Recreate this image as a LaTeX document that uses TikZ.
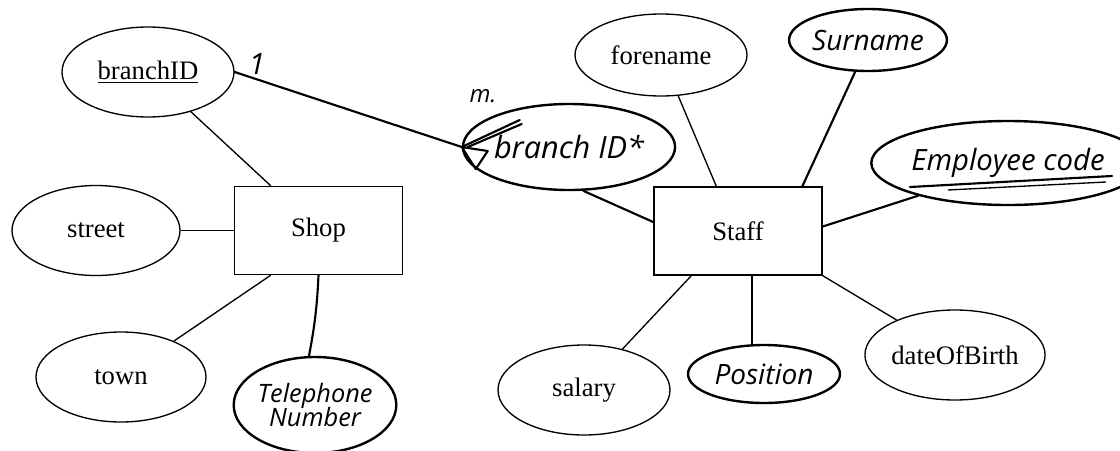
\documentclass[tikz,border=0pt]{standalone}
\usepackage{fontspec}
\setmainfont{Liberation Serif}
\newfontfamily\handfont{Open Sans}
\usetikzlibrary{shapes.geometric,calc}

\begin{document}
\begin{tikzpicture}[x=0.75pt,y=-0.75pt,
  attr/.style 2 args={ellipse, draw, line width=1pt, inner sep=0pt,
    minimum width=#1*0.75pt, minimum height=#2*0.75pt,
    font=\fontsize{20}{22}\selectfont},
  hattr/.style 2 args={ellipse, draw, line width=1.8pt, inner sep=0pt,
    minimum width=#1*0.75pt, minimum height=#2*0.75pt, align=center},
  hand/.style={font=\handfont\itshape\fontsize{#1}{#1}\selectfont},
  entity/.style={draw, line width=1pt, inner sep=0pt,
    minimum width=168*0.75pt, minimum height=88*0.75pt,
    font=\fontsize{20}{22}\selectfont},
  link/.style={line width=1pt},
  hlink/.style={line width=1.6pt, line cap=round, line join=round},
  cardtext/.style={hand=#1, inner sep=0pt},
]
\useasboundingbox (0,0) rectangle (1120,450);

% entities
\node[entity] (shop)  at (318.5,230.5) {Shop};
\node[entity] (staff) at (738,231) {Staff};

% Shop attributes
\node[attr={172}{90}] (branchid) at (148,72)  {\underline{branchID}};
\node[attr={168}{90}] (street)   at (96,230.5) {street};
\node[attr={170}{90}] (town)     at (121,377) {town};
\node[hattr={156}{96}, hand=19] (phone) at (315,405) {Telephone\\[-1pt]Number};

% Staff attributes
\node[attr={172}{82}]  (forename) at (661,55)  {forename};
\node[hattr={142}{62}, hand=21] (surname)  at (868,40)  {Surname};
\node[hattr={218}{84}, hand=22] (empcode)  at (1008,163) {Employee code};
\node[attr={172}{90}]  (salary)   at (584,390) {salary};
\node[hattr={152}{58}, hand=21] (position) at (764,374) {Position};
\node[attr={170}{90}]  (dob)      at (955,355) {dateOfBirth};

% foreign key attribute
\node[hattr={208}{86}, hand=23] (branchfk) at (569,147) {branch ID*};

% connectors of Shop
\draw[link] (branchid) -- ($(shop.north west)+(37,0)$);
\draw[link] (street) -- (shop.west);
\draw[link] (town) -- ($(shop.south west)+(37,0)$);
\draw[hlink] (shop.south) to[bend left=4] (phone.97);

% relationship between the two keys, with its cardinalities
\draw[hlink] (branchid.east) -- (branchfk.west);
\node[cardtext=22] (one)  at (257,64) {1};
\node[cardtext=18] (many) at (483,96) {m.};
\draw[hlink] (branchfk.west) -- ($(branchfk.west)+(26,4)$)
  -- ($(branchfk.west)+(14,22)$) -- cycle;
\draw[hlink] (branchfk.west) -- ($(branchfk.west)+(58,-27)$);
\draw[hlink] ($(branchfk.west)+(6,0)$) -- ($(branchfk.west)+(60,-23)$);

% connectors of Staff
\draw[hlink] (branchfk.-72) -- ($(staff.north west)!0.4!(staff.south west)$);
\draw[link] (forename) -- ($(staff.north west)+(63,0)$);
\draw[hlink] (surname.-112) -- ($(staff.north west)+(149,0)$);
\draw[hlink] (empcode.-160) -- ($(staff.north east)!0.45!(staff.south east)$);
\draw[link] ($(staff.south west)+(38,0)$) -- (salary);
\coordinate (postop) at ($(staff.south)+(14,0)$);
\draw[hlink] (postop) -- (postop |- position.north);
\draw[link] (staff.south east) -- (dob);

% underline of the employee code
\draw[hlink] ($(empcode.center)+(-98,24)$) -- ($(empcode.center)+(104,13)$);
\draw[line width=1pt] ($(empcode.center)+(-60,27)$) -- ($(empcode.center)+(98,19)$);
\end{tikzpicture}
\end{document}
